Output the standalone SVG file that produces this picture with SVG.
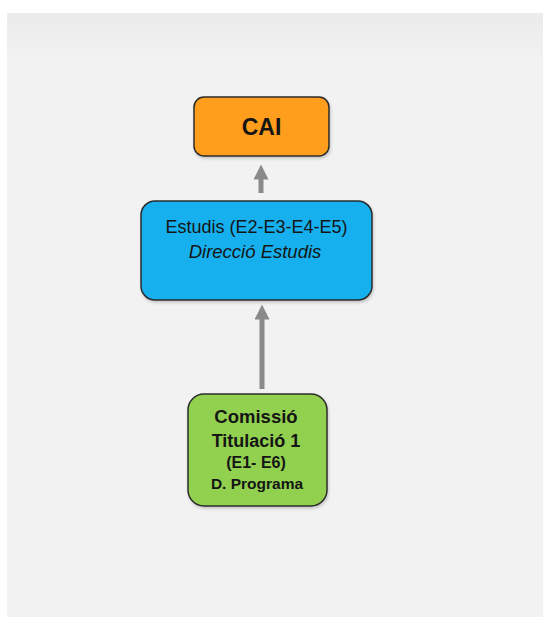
<svg xmlns="http://www.w3.org/2000/svg" width="543" height="617" viewBox="0 0 543 617">
<defs>
<linearGradient id="bg" x1="0" y1="0" x2="0" y2="1">
<stop offset="0" stop-color="#ebebeb"/>
<stop offset="0.08" stop-color="#f2f2f2"/>
<stop offset="1" stop-color="#f2f2f2"/>
</linearGradient>
<marker id="ah" markerWidth="3" markerHeight="3" refX="1.5" refY="1.5" orient="auto" markerUnits="strokeWidth">
<path d="M0,0 L3,1.5 L0,3 z" fill="#8a8a8a"/>
</marker>
<filter id="sh" x="-10%" y="-10%" width="130%" height="130%">
<feDropShadow dx="1" dy="2" stdDeviation="1.5" flood-color="#000" flood-opacity="0.18"/>
</filter>
</defs>
<style>
.box{stroke:#2b2b2b;stroke-width:1.5;filter:url(#sh)}
.t{font-family:"Liberation Sans",Arial,sans-serif;fill:#151515;text-anchor:middle}
.conn{stroke:#8a8a8a;stroke-width:5;fill:none}
</style>
<rect x="0" y="0" width="543" height="617" fill="#ffffff"/>
<rect x="7" y="13" width="536" height="604" fill="url(#bg)"/>
<g id="connectors">
<line class="conn" x1="261" y1="193" x2="261" y2="172" marker-end="url(#ah)"/>
<line class="conn" x1="262" y1="389" x2="262" y2="312" marker-end="url(#ah)"/>
</g>
<g id="cai">
<rect class="box" x="194" y="97" width="135" height="59" rx="10" fill="#ff9e1b"/>
<text class="t" x="261.5" y="135" font-size="23" font-weight="bold" fill="#1e1208">CAI</text>
</g>
<g id="estudis">
<rect class="box" x="141" y="201" width="231" height="99" rx="14" fill="#12b0ee"/>
<text class="t" x="256.5" y="233" font-size="18" fill="#0d2033">Estudis (E2-E3-E4-E5)</text>
<text class="t" x="255" y="258" font-size="18.5" font-style="italic" fill="#0d2033">Direcció Estudis</text>
</g>
<g id="comissio">
<rect class="box" x="188" y="394" width="139" height="112" rx="16" fill="#92d050"/>
<text class="t" x="256" y="423" font-size="18.5" font-weight="bold">Comissió</text>
<text class="t" x="256" y="447" font-size="18" font-weight="bold">Titulació 1</text>
<text class="t" x="256" y="468" font-size="16" font-weight="bold">(E1- E6)</text>
<text class="t" x="257" y="489" font-size="15.5" font-weight="bold">D. Programa</text>
</g>
</svg>
